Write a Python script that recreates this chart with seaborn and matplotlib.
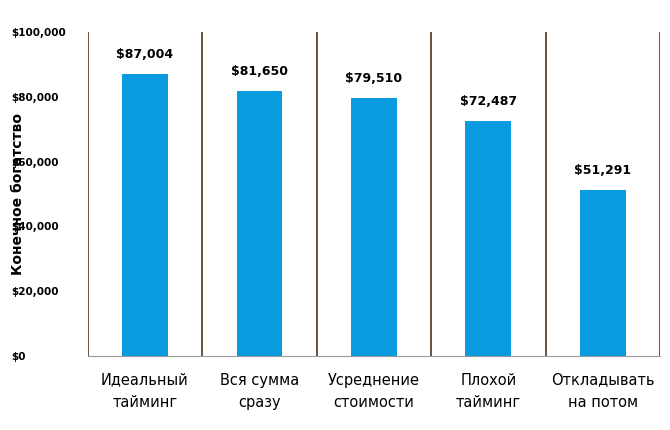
import matplotlib
matplotlib.use("Agg")
import matplotlib.pyplot as plt
import seaborn as sns
import pandas as pd

categories = ["Идеальный\nтайминг", "Вся сумма\nсразу", "Усреднение\nстоимости", "Плохой\nтайминг", "Откладывать\nна потом"]
values = [87004, 81650, 79510, 72487, 51291]
yticks = [0, 20000, 40000, 60000, 80000, 100000]

df = pd.DataFrame({"cat": categories, "val": values})
fig = plt.figure(figsize=(6.7, 4.3), dpi=100)
ax = fig.add_axes([0.131, 0.172, 0.854, 0.754])
sns.barplot(data=df, x="cat", y="val", color="#0a9ae0", saturation=1, width=0.4, ax=ax)
ax.set_ylim(0, 100000)
ax.set_xlim(-0.5, 4.5)
ax.set_yticks(yticks)
ax.set_yticklabels([f"${v:,}" for v in yticks], fontsize=7.5, fontweight="bold")
for lab in ax.get_yticklabels():
    lab.set_horizontalalignment("left")
ax.tick_params(axis="y", length=0, pad=55)
ax.tick_params(axis="x", length=0, pad=12)
for lab in ax.get_xticklabels():
    lab.set_fontsize(10.5)
    lab.set_linespacing(1.6)
for x in [-0.5, 0.5, 1.5, 2.5, 3.5, 4.5]:
    ax.axvline(x, color="#5a4632", lw=1.3)
for i, v in enumerate(values):
    ax.text(i, v + 4000, f"${v:,}", ha="center", va="bottom", fontsize=9, fontweight="bold")
for s in ["top", "left", "right"]:
    ax.spines[s].set_visible(False)
ax.spines["bottom"].set_color("#999999")
ax.set_xlabel("")
ax.set_ylabel("Конечное богатство", fontsize=10, fontweight="bold", labelpad=6)
ax.yaxis.set_label_coords(-0.11, 0.5)
fig.savefig("out.png", dpi=100)
